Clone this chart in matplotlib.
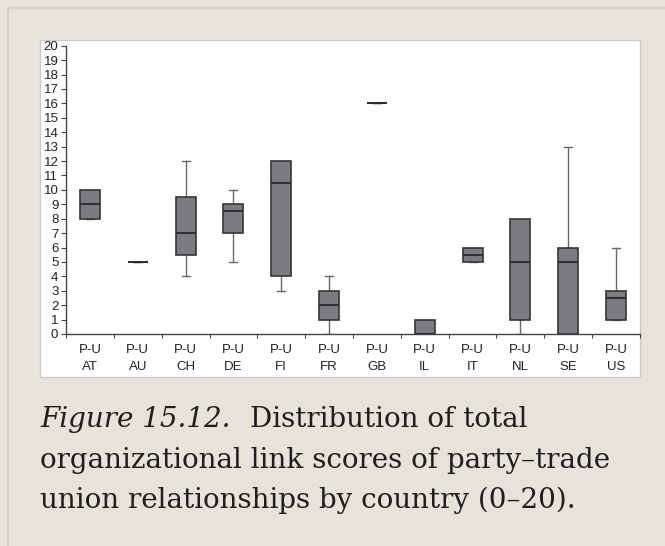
import matplotlib
matplotlib.use("Agg")
import matplotlib.pyplot as plt
from matplotlib.patches import Rectangle
from matplotlib.lines import Line2D

# ---- data ----
countries = ["AT", "AU", "CH", "DE", "FI", "FR", "GB", "IL", "IT", "NL", "SE", "US"]
whislo = [8, 5, 4, 5, 3, 0, 16, 0, 5, 0, 0, 1]
q1     = [8, 5, 5.5, 7, 4, 1, 16, 0, 5, 1, 0, 1]
med    = [9, 5, 7, 8.5, 10.5, 2, 16, 0, 5.5, 5, 5, 2.5]
q3     = [10, 5, 9.5, 9, 12, 3, 16, 1, 6, 8, 6, 3]
whishi = [10, 5, 12, 10, 12, 4, 16, 1, 6, 8, 13, 6]
yticks = list(range(0, 21))
caption_italic = "Figure 15.12."
caption_lines = ["Distribution of total",
                 "organizational link scores of party\u2013trade",
                 "union relationships by country (0\u201320)."]

W, H = 665, 546
BG = "#e6e3da"
fig = plt.figure(figsize=(W / 100, H / 100), dpi=100, facecolor=BG)

def fx(px):
    return px / W

def fy(py):
    return 1 - py / H

# page border lines
fig.add_artist(Line2D([fx(7.5), fx(7.5)], [0, fy(7.5)], transform=fig.transFigure,
                      color="#cfcfcf", lw=1.5))
fig.add_artist(Line2D([fx(7.5), 1], [fy(7.5), fy(7.5)], transform=fig.transFigure,
                      color="#cfcfcf", lw=1.5))

# white panel
fig.add_artist(Rectangle((fx(40), fy(377)), fx(640) - fx(40), fy(40) - fy(377),
                         transform=fig.transFigure, facecolor="white",
                         edgecolor="#cccccc", lw=1.0, zorder=0))

ax = fig.add_axes([fx(66), fy(334), fx(640) - fx(66), fy(45.7) - fy(334)])
ax.set_facecolor("none")

stats = []
for i, c in enumerate(countries):
    stats.append(dict(label=c, whislo=whislo[i], q1=q1[i], med=med[i],
                      q3=q3[i], whishi=whishi[i], fliers=[]))

positions = list(range(1, len(countries) + 1))
ax.bxp(stats, positions=positions, widths=0.42, patch_artist=True,
       showfliers=False, capwidths=0.17,
       boxprops=dict(facecolor="#7c7c80", edgecolor="#363636", lw=1.2, zorder=3),
       medianprops=dict(color="#2a2a2a", lw=1.3, zorder=4),
       whiskerprops=dict(color="#6a6a6a", lw=1.0, zorder=2),
       capprops=dict(color="#6a6a6a", lw=1.0, zorder=2))

ax.set_xlim(0.5, len(countries) + 0.5)
ax.set_ylim(0, 20)
for s in ["top", "right"]:
    ax.spines[s].set_visible(False)
for s in ["left", "bottom"]:
    ax.spines[s].set_color("#444444")
    ax.spines[s].set_linewidth(1.0)

ax.set_yticks(yticks)
ax.set_yticklabels([str(t) for t in yticks], fontsize=9.5, family="Liberation Sans",
                   color="#222222")
ax.tick_params(axis="y", direction="out", length=3.5, width=0.8, color="#444444", pad=2)

boundaries = [p - 0.5 for p in positions] + [positions[-1] + 0.5]
ax.set_xticks(boundaries)
ax.set_xticklabels([])
ax.set_xticks(positions, minor=True)
ax.set_xticklabels(["P-U\n" + c for c in countries], minor=True, fontsize=9.5,
                   family="Liberation Sans", color="#222222", linespacing=1.5)
ax.tick_params(axis="x", which="major", direction="out", length=3, width=0.8,
               color="#444444")
ax.tick_params(axis="x", which="minor", length=0, pad=7.5)

# caption
cap_font = dict(family="DejaVu Serif", fontsize=20, color="#1e1e1e")
baselines = [427, 468, 508]
t0 = fig.text(fx(40), fy(baselines[0]), caption_italic, style="italic",
              va="baseline", ha="left", **cap_font)
renderer = fig.canvas.get_renderer()
bb = t0.get_window_extent(renderer=renderer)
fig.text(fx(bb.x1 + 19), fy(baselines[0]), caption_lines[0], va="baseline",
         ha="left", **cap_font)
for k in (1, 2):
    fig.text(fx(40), fy(baselines[k]), caption_lines[k], va="baseline", ha="left",
             **cap_font)

fig.savefig("out.png", dpi=100, facecolor=BG)
